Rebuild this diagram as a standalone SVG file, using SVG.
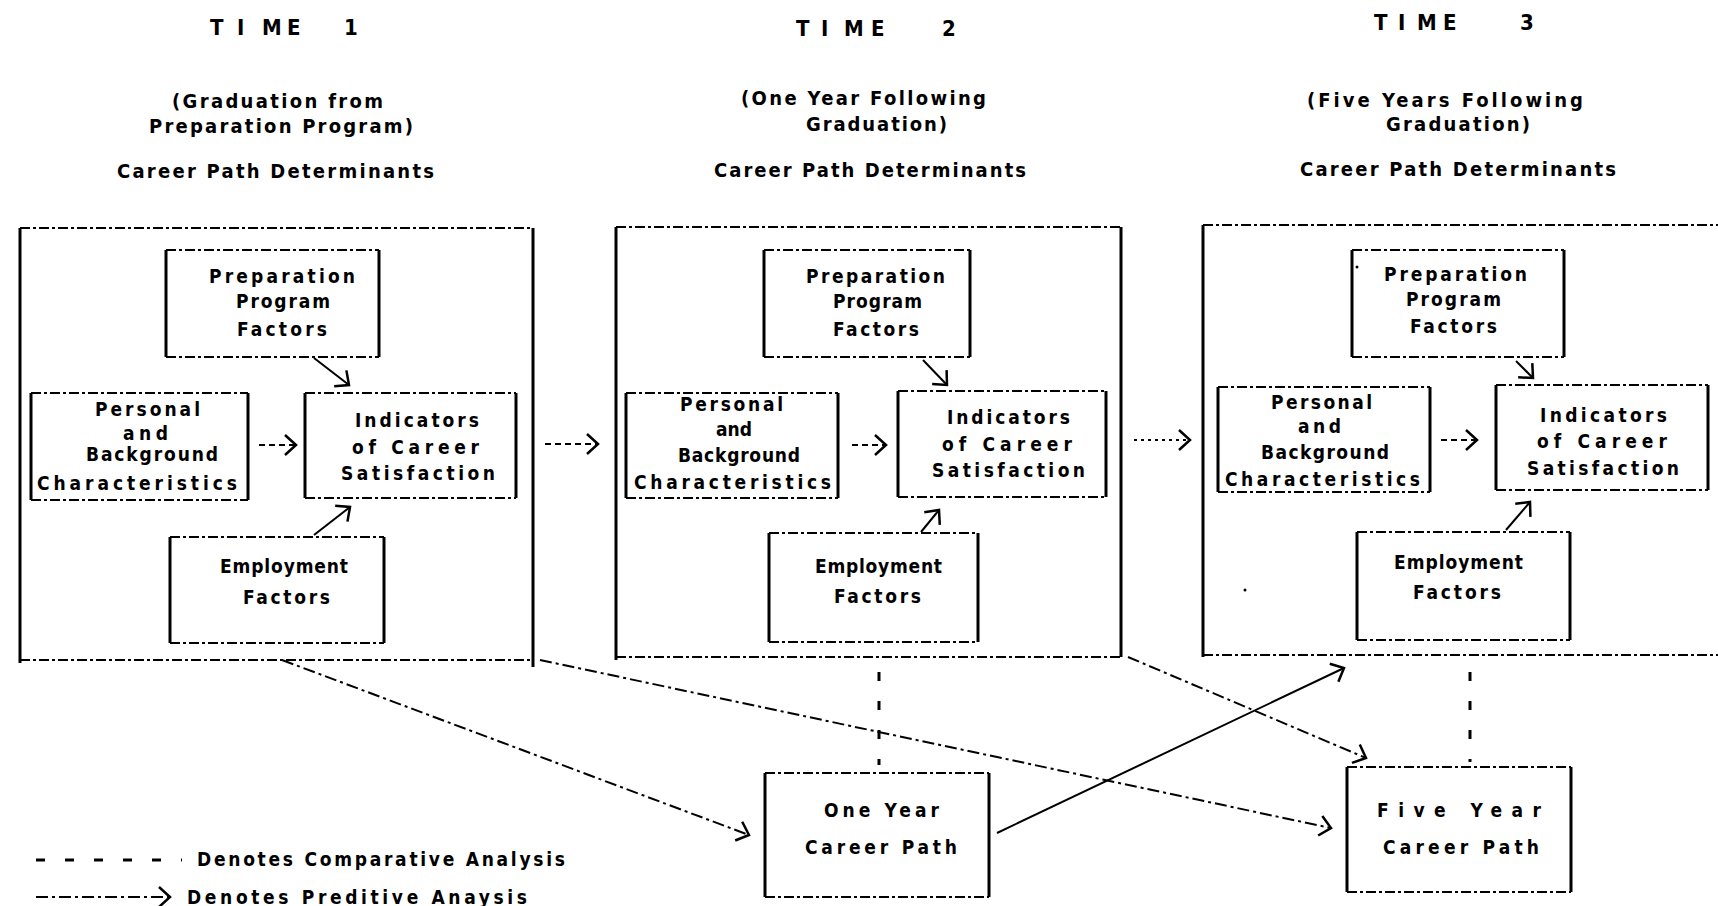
<svg xmlns="http://www.w3.org/2000/svg" width="1718" height="906" viewBox="0 0 1718 906">
<style>
  text { font-family: "Liberation Sans Narrow", "DejaVu Sans Condensed", "Liberation Sans", sans-serif; font-weight: bold; fill: #000; }
  .h { font-size: 20px; }
  .t { font-size: 22px; }
  .b { font-size: 19px; }
  .side { fill: none; stroke: #000; stroke-width: 3; }
  .edge { fill: none; stroke: #000; stroke-width: 2; stroke-dasharray: 10 3 3 3; }
  .pred { fill: none; stroke: #000; stroke-width: 2; stroke-dasharray: 12 4 3 4; }
  .solid { fill: none; stroke: #000; stroke-width: 2; }
  .dash { fill: none; stroke: #000; stroke-width: 2; stroke-dasharray: 6 4; }
  .dot { fill: none; stroke: #000; stroke-width: 2; stroke-dasharray: 3 4; }
  .comp { fill: none; stroke: #000; stroke-width: 3; stroke-dasharray: 9 20; }
</style>
<defs>
  <marker id="ah" markerUnits="userSpaceOnUse" markerWidth="24" markerHeight="24" refX="12" refY="12" orient="auto" viewBox="0 0 24 24">
    <path d="M1 2 L12 12 L1 22" fill="none" stroke="#000" stroke-width="2.5"/>
  </marker>
</defs>
<rect width="1718" height="906" fill="#fff"/>

<g id="header1">
  <text class="t" x="210 237 262 287 300 344" y="35">TIME 1</text>
  <text class="h" x="172" y="108" textLength="211" lengthAdjust="spacing">(Graduation from</text>
  <text class="h" x="149" y="133" textLength="264" lengthAdjust="spacing">Preparation Program)</text>
  <text class="h" x="117" y="178" textLength="317" lengthAdjust="spacing">Career Path Determinants</text>
</g>
<g id="header2">
  <text class="t" x="796 821 844 871 885 942" y="36">TIME 2</text>
  <text class="h" x="741" y="105" textLength="245" lengthAdjust="spacing">(One Year Following</text>
  <text class="h" x="806" y="131" textLength="141" lengthAdjust="spacing">Graduation)</text>
  <text class="h" x="714" y="177" textLength="312" lengthAdjust="spacing">Career Path Determinants</text>
</g>
<g id="header3">
  <text class="t" x="1374 1398 1417 1443 1460 1520" y="30">TIME 3</text>
  <text class="h" x="1307" y="107" textLength="276" lengthAdjust="spacing">(Five Years Following</text>
  <text class="h" x="1386" y="131" textLength="144" lengthAdjust="spacing">Graduation)</text>
  <text class="h" x="1300" y="176" textLength="316" lengthAdjust="spacing">Career Path Determinants</text>
</g>

<g id="time1">
  <path class="side" d="M20 228 V663 M533 228 V667"/>
  <path class="edge" d="M20 228 H533 M20 660 H533"/>
</g>
<g id="time2">
  <path class="side" d="M616 227 V660 M1121 227 V657"/>
  <path class="edge" d="M616 227 H1121 M616 657 H1121"/>
</g>
<g id="time3">
  <path class="side" d="M1203 225 V657"/>
  <path class="edge" d="M1203 225 H1718 M1203 655 H1718"/>
  <circle cx="1245" cy="590" r="1.5" fill="#000"/>
</g>

<g id="prep1">
  <path class="side" d="M166 250 V357 M379 250 V357"/>
  <path class="edge" d="M166 250 H379 M166 357 H379"/>
  <text class="b" x="209" y="283" textLength="146" lengthAdjust="spacing">Preparation</text>
  <text class="b" x="236" y="308" textLength="94" lengthAdjust="spacing">Program</text>
  <text class="b" x="237" y="336" textLength="90" lengthAdjust="spacing">Factors</text>
</g>
<g id="pers1">
  <path class="side" d="M31 393 V500 M248 393 V500"/>
  <path class="edge" d="M31 393 H248 M31 500 H248"/>
  <text class="b" x="95" y="416" textLength="105" lengthAdjust="spacing">Personal</text>
  <text class="b" x="123" y="440" textLength="45" lengthAdjust="spacing">and</text>
  <text class="b" x="86" y="461" textLength="132" lengthAdjust="spacing">Background</text>
  <text class="b" x="37" y="490" textLength="200" lengthAdjust="spacing">Characteristics</text>
</g>
<g id="ind1">
  <path class="side" d="M305 393 V498 M516 393 V498"/>
  <path class="edge" d="M305 393 H516 M305 498 H516"/>
  <text class="b" x="355" y="427" textLength="124" lengthAdjust="spacing">Indicators</text>
  <text class="b" x="352" y="454" textLength="127" lengthAdjust="spacing">of  Career</text>
  <text class="b" x="341" y="480" textLength="154" lengthAdjust="spacing">Satisfaction</text>
</g>
<g id="emp1">
  <path class="side" d="M170 537 V643 M384 537 V643"/>
  <path class="edge" d="M170 537 H384 M170 643 H384"/>
  <text class="b" x="220" y="573" textLength="128" lengthAdjust="spacing">Employment</text>
  <text class="b" x="243" y="604" textLength="87" lengthAdjust="spacing">Factors</text>
</g>

<g id="prep2">
  <path class="side" d="M764 250 V357 M970 250 V357"/>
  <path class="edge" d="M764 250 H970 M764 357 H970"/>
  <text class="b" x="806" y="283" textLength="139" lengthAdjust="spacing">Preparation</text>
  <text class="b" x="833" y="308" textLength="89" lengthAdjust="spacing">Program</text>
  <text class="b" x="833" y="336" textLength="86" lengthAdjust="spacing">Factors</text>
</g>
<g id="pers2">
  <path class="side" d="M626 393 V498 M838 393 V498"/>
  <path class="edge" d="M626 393 H838 M626 498 H838"/>
  <text class="b" x="680" y="411" textLength="103" lengthAdjust="spacing">Personal</text>
  <text class="b" x="716" y="436" textLength="36" lengthAdjust="spacing">and</text>
  <text class="b" x="678" y="462" textLength="122" lengthAdjust="spacing">Background</text>
  <text class="b" x="634" y="489" textLength="197" lengthAdjust="spacing">Characteristics</text>
</g>
<g id="ind2">
  <path class="side" d="M898 391 V497 M1106 391 V497"/>
  <path class="edge" d="M898 391 H1106 M898 497 H1106"/>
  <text class="b" x="947" y="424" textLength="123" lengthAdjust="spacing">Indicators</text>
  <text class="b" x="942" y="451" textLength="130" lengthAdjust="spacing">of  Career</text>
  <text class="b" x="932" y="477" textLength="153" lengthAdjust="spacing">Satisfaction</text>
</g>
<g id="emp2">
  <path class="side" d="M769 533 V642 M978 533 V642"/>
  <path class="edge" d="M769 533 H978 M769 642 H978"/>
  <text class="b" x="815" y="573" textLength="127" lengthAdjust="spacing">Employment</text>
  <text class="b" x="834" y="603" textLength="87" lengthAdjust="spacing">Factors</text>
</g>

<g id="prep3">
  <path class="side" d="M1352 250 V357 M1564 250 V357"/>
  <path class="edge" d="M1352 250 H1564 M1352 357 H1564"/>
  <circle cx="1357" cy="267" r="1.5" fill="#000"/>
  <text class="b" x="1384" y="281" textLength="143" lengthAdjust="spacing">Preparation</text>
  <text class="b" x="1406" y="306" textLength="95" lengthAdjust="spacing">Program</text>
  <text class="b" x="1410" y="333" textLength="87" lengthAdjust="spacing">Factors</text>
</g>
<g id="pers3">
  <path class="side" d="M1218 387 V492 M1430 387 V492"/>
  <path class="edge" d="M1218 387 H1430 M1218 492 H1430"/>
  <text class="b" x="1271" y="409" textLength="101" lengthAdjust="spacing">Personal</text>
  <text class="b" x="1298" y="433" textLength="43" lengthAdjust="spacing">and</text>
  <text class="b" x="1261" y="459" textLength="128" lengthAdjust="spacing">Background</text>
  <text class="b" x="1225" y="486" textLength="195" lengthAdjust="spacing">Characteristics</text>
</g>
<g id="ind3">
  <path class="side" d="M1496 385 V490 M1708 385 V490"/>
  <path class="edge" d="M1496 385 H1708 M1496 490 H1708"/>
  <text class="b" x="1540" y="422" textLength="127" lengthAdjust="spacing">Indicators</text>
  <text class="b" x="1537" y="448" textLength="130" lengthAdjust="spacing">of  Career</text>
  <text class="b" x="1527" y="475" textLength="152" lengthAdjust="spacing">Satisfaction</text>
</g>
<g id="emp3">
  <path class="side" d="M1357 532 V640 M1570 532 V640"/>
  <path class="edge" d="M1357 532 H1570 M1357 640 H1570"/>
  <text class="b" x="1394" y="569" textLength="129" lengthAdjust="spacing">Employment</text>
  <text class="b" x="1413" y="599" textLength="88" lengthAdjust="spacing">Factors</text>
</g>

<g id="oneyear">
  <path class="side" d="M765 773 V897 M989 773 V897"/>
  <path class="edge" d="M765 773 H989 M765 897 H989"/>
  <text class="b" x="824" y="817" textLength="115" lengthAdjust="spacing">One  Year</text>
  <text class="b" x="805" y="854" textLength="152" lengthAdjust="spacing">Career  Path</text>
</g>
<g id="fiveyear">
  <path class="side" d="M1347 767 V892 M1571 767 V892"/>
  <path class="edge" d="M1347 767 H1571 M1347 892 H1571"/>
  <text class="b" x="1377" y="817" textLength="164" lengthAdjust="spacing">Five  Year</text>
  <text class="b" x="1383" y="854" textLength="156" lengthAdjust="spacing">Career  Path</text>
</g>

<g id="legend">
  <path class="comp" d="M36 860 H182" stroke-dasharray="4 24"/>
  <text class="b" x="197" y="866" textLength="368" lengthAdjust="spacing">Denotes Comparative Analysis</text>
  <path class="pred" d="M36 897 H170" marker-end="url(#ah)"/>
  <text class="b" x="187" y="904" textLength="340" lengthAdjust="spacing">Denotes Preditive Anaysis</text>
</g>

<g id="connectors">
  <path class="solid" d="M314 358 L349 385" marker-end="url(#ah)"/>
  <path class="dash" d="M259 445 L296 445" marker-end="url(#ah)"/>
  <path class="solid" d="M314 535 L350 507" marker-end="url(#ah)"/>

  <path class="dash" d="M545 444 L598 444" marker-end="url(#ah)"/>
  <path class="solid" d="M923 360 L947 385" marker-end="url(#ah)"/>
  <path class="dash" d="M852 445 L886 445" marker-end="url(#ah)"/>
  <path class="solid" d="M921 532 L939 510" marker-end="url(#ah)"/>

  <path class="dot" d="M1134 440 L1190 440" marker-end="url(#ah)"/>
  <path class="solid" d="M1516 361 L1533 378" marker-end="url(#ah)"/>
  <path class="dash" d="M1441 440 L1477 440" marker-end="url(#ah)"/>
  <path class="solid" d="M1506 530 L1530 502" marker-end="url(#ah)"/>

  <path class="pred" d="M282 660 L749 835" marker-end="url(#ah)"/>
  <path class="pred" d="M540 660 L1331 828" marker-end="url(#ah)"/>
  <path class="pred" d="M1128 657 L1366 758" marker-end="url(#ah)"/>
  <path class="solid" d="M997 833 L1344 668" marker-end="url(#ah)"/>

  <path class="comp" d="M879 672 V765"/>
  <path class="comp" d="M1470 672 V762"/>
</g>
</svg>
